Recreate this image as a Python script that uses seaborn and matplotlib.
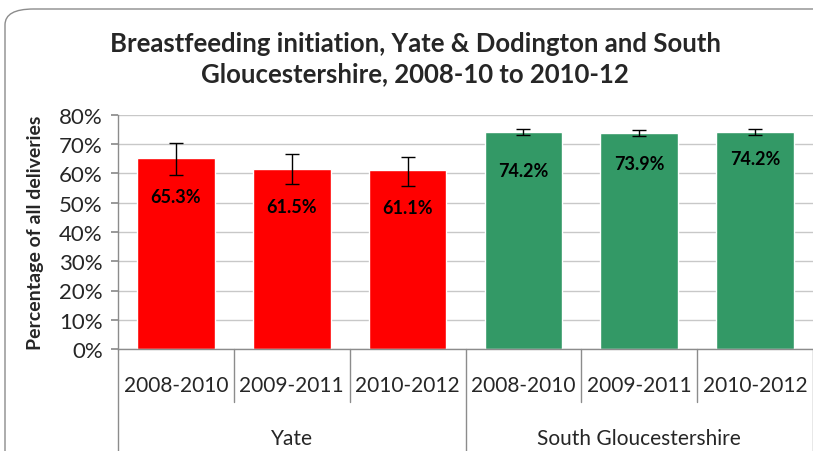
import matplotlib
matplotlib.use("Agg")
import matplotlib.pyplot as plt
import matplotlib.transforms as mtransforms
from matplotlib.patches import FancyBboxPatch
import seaborn as sns
import pandas as pd
import numpy as np

# ---- data ----
periods = ["2008-2010", "2009-2011", "2010-2012", "2008-2010", "2009-2011", "2010-2012"]
groups = ["Yate", "Yate", "Yate", "South Gloucestershire", "South Gloucestershire", "South Gloucestershire"]
values = [65.3, 61.5, 61.1, 74.2, 73.9, 74.2]
ci_low = [59.6, 56.3, 55.8, 73.2, 72.9, 73.2]
ci_high = [70.5, 66.5, 65.7, 75.1, 74.8, 75.1]
group_names = ["Yate", "South Gloucestershire"]
group_colors = ["#FF0000", "#339966"]
title = "Breastfeeding initiation, Yate & Dodington and South\nGloucestershire, 2008-10 to 2010-12"
ylabel = "Percentage of all deliveries"
yticks = [0, 10, 20, 30, 40, 50, 60, 70, 80]

# label offsets below bar top (points) - styling
label_offsets = [28, 27, 27, 28, 22, 19]

sns.set_theme(style="white")
plt.rcParams["font.family"] = ["Lato", "DejaVu Sans"]

df = pd.DataFrame({
    "key": [f"{g}|{p}" for g, p in zip(groups, periods)],
    "period": periods,
    "group": groups,
    "value": values,
})

fig = plt.figure(figsize=(8.13, 4.52), dpi=100)
# rounded border (extends past right and bottom edges)
top_y = 1 - 10 / 452
border = FancyBboxPatch((5 / 813, -0.6), 2.0, top_y + 0.6,
                        boxstyle="round,pad=0,rounding_size=0.035",
                        transform=fig.transFigure, fill=False,
                        edgecolor="#8C8C8C", linewidth=1.0, zorder=0)
fig.patches.append(border)

ax = fig.add_axes([118 / 813, 1 - 350 / 452, (813 - 118) / 813, (350 - 116) / 452])
sns.barplot(data=df, x="key", y="value", hue="group", hue_order=group_names,
            palette=group_colors, dodge=False, width=0.67, ax=ax,
            legend=False, saturation=1, zorder=2)

x = np.arange(len(values))
yerr = np.array([np.array(values) - np.array(ci_low), np.array(ci_high) - np.array(values)])
ax.errorbar(x, values, yerr=yerr, fmt="none", ecolor="black", elinewidth=1,
            capsize=5, capthick=1, zorder=3)

for xi, v, off in zip(x, values, label_offsets):
    ax.annotate(f"{v:.1f}%", (xi, v), xytext=(0, -off), textcoords="offset points",
                ha="center", va="center", fontsize=13, fontweight="bold", color="black", zorder=4)

ax.set_ylim(0, 80)
ax.set_xlim(-0.5, len(values) - 0.5)
ax.set_yticks(yticks)
ax.set_yticklabels([f"{t}%" for t in yticks], fontsize=16)
ax.yaxis.grid(True, color="#C8C8C8", linewidth=1)
ax.set_axisbelow(True)
ax.tick_params(axis="y", which="both", left=True, length=5, color="#8C8C8C", pad=6)
ax.set_xticks([])
ax.set_xlabel("")
ax.set_ylabel(ylabel, fontsize=14, fontweight="bold")
ax.yaxis.set_label_coords(-(118 - 44) / (813 - 118), 0.5)
for s in ["top", "right"]:
    ax.spines[s].set_visible(False)
for s in ["left", "bottom"]:
    ax.spines[s].set_color("#8C8C8C")
    ax.spines[s].set_linewidth(1)

# multi-level category axis
trans = mtransforms.blended_transform_factory(ax.transData, ax.transAxes)
def ay(px):
    return -px / (350 - 116)
for i in range(len(values) + 1):
    xb = i - 0.5
    y_end = ay(110) if i % 3 == 0 else ay(53)
    ax.plot([xb, xb], [0, y_end], transform=trans, color="#8C8C8C", lw=1, clip_on=False)
for xi, p in zip(x, periods):
    ax.text(xi, ay(36), p, transform=trans, ha="center", va="center", fontsize=15)
for gi, g in enumerate(group_names):
    ax.text(gi * 3 + 1, ay(89), g, transform=trans, ha="center", va="center", fontsize=15)

fig.text(415 / 813, 1 - 59 / 452, title, ha="center", va="center", fontsize=18.5,
         fontweight="bold", linespacing=1.3)

fig.savefig("out.png", dpi=100)
